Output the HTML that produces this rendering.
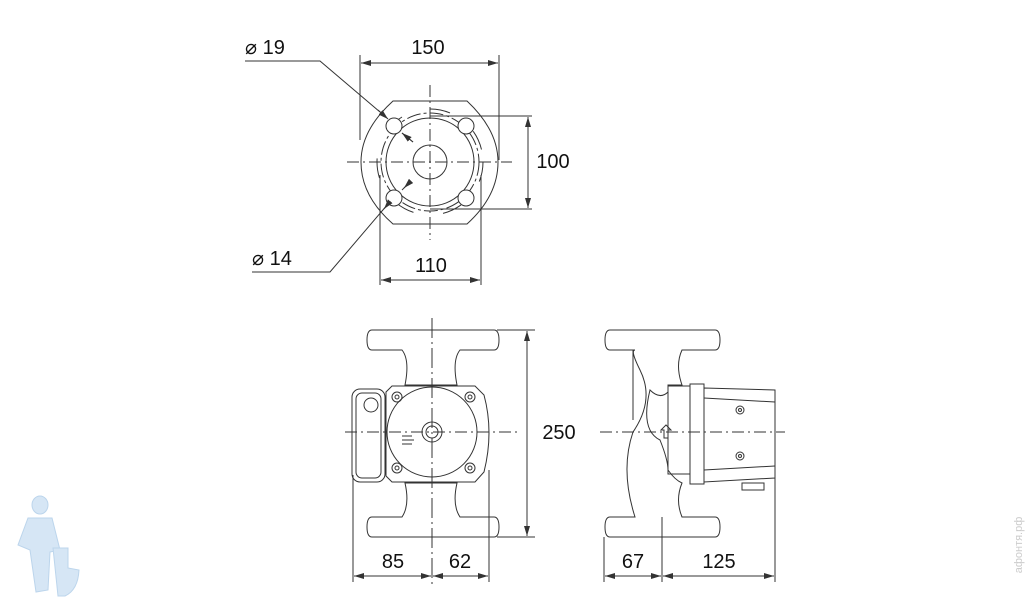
<!DOCTYPE html>
<html><head><meta charset="utf-8"><style>
html,body{margin:0;padding:0;background:#fff;width:1034px;height:611px;overflow:hidden}
svg{display:block}
text{font-family:"Liberation Sans",sans-serif;fill:#111}
</style></head><body>
<svg width="1034" height="611" viewBox="0 0 1034 611" xmlns="http://www.w3.org/2000/svg">
<defs>
<marker id="a" viewBox="0 0 10 6" refX="10" refY="3" markerWidth="10" markerHeight="6" orient="auto-start-reverse" markerUnits="userSpaceOnUse">
<path d="M0,0 L10,3 L0,6 z" fill="#333"/></marker>
</defs>
<g fill="none" stroke="#333" stroke-width="1">
<!-- TOP VIEW -->
<line x1="360" y1="55" x2="360" y2="140"/>
<line x1="499" y1="55" x2="499" y2="160"/>
<line x1="361" y1="63" x2="498" y2="63" marker-start="url(#a)" marker-end="url(#a)"/>
<path d="M393,101 L467,101 Q498,130 498,162 Q498,196 467,224 L393,224 Q361,196 361,162 Q361,130 393,101 Z"/>
<circle cx="430" cy="162" r="17"/>
<circle cx="430" cy="162" r="44"/>
<circle cx="430" cy="162" r="49" stroke-dasharray="14,3,3,3"/>
<circle cx="430" cy="162" r="53" stroke-dasharray="20,30"/>
<circle cx="394" cy="126" r="8" fill="#fff"/>
<circle cx="466" cy="126" r="8" fill="#fff"/>
<circle cx="394" cy="198" r="8" fill="#fff"/>
<circle cx="466" cy="198" r="8" fill="#fff"/>
<line x1="347" y1="162" x2="512" y2="162" stroke-dasharray="12,4,2,4"/>
<line x1="430" y1="85" x2="430" y2="240" stroke-dasharray="12,4,2,4"/>
<line x1="430" y1="116" x2="532" y2="116"/>
<line x1="430" y1="209" x2="532" y2="209"/>
<line x1="528" y1="117" x2="528" y2="208" marker-start="url(#a)" marker-end="url(#a)"/>
<line x1="380" y1="175" x2="380" y2="285"/>
<line x1="481" y1="175" x2="481" y2="285"/>
<line x1="381" y1="280" x2="480" y2="280" marker-start="url(#a)" marker-end="url(#a)"/>
<polyline points="245,61 320,61 380,112"/>
<line x1="378" y1="110" x2="388" y2="119" marker-end="url(#a)"/>
<line x1="413" y1="142" x2="402" y2="133" marker-end="url(#a)"/>
<line x1="402" y1="133" x2="413" y2="142"/>
<polyline points="252,272 330,272 388,204"/>
<line x1="388" y1="204" x2="384" y2="209" marker-end="url(#a)"/>
<line x1="402" y1="190" x2="410" y2="182"/>
<line x1="410" y1="182" x2="404" y2="188" marker-end="url(#a)"/>
<!-- FRONT VIEW -->
<path d="M372,330 L494,330 Q499,330 499,340 Q499,350 494,350 L460,350 Q452,360 457,385 L405,385 Q410,360 402,350 L372,350 Q367,350 367,340 Q367,330 372,330 Z"/>
<path d="M372,537 L494,537 Q499,537 499,527 Q499,517 494,517 L460,517 Q452,505 457,483 L405,483 Q410,505 402,517 L372,517 Q367,517 367,527 Q367,537 372,537 Z"/>
<path d="M392,386 L475,386 L484,395 Q494,432 484,472 L475,482 L392,482 L386,476 L386,392 Z" fill="#fff"/>
<circle cx="432" cy="432" r="45"/>
<circle cx="432" cy="432" r="10"/>
<circle cx="432" cy="432" r="6"/>
<circle cx="397" cy="397" r="5"/><circle cx="397" cy="397" r="2"/>
<circle cx="470" cy="397" r="5"/><circle cx="470" cy="397" r="2"/>
<circle cx="397" cy="468" r="5"/><circle cx="397" cy="468" r="2"/>
<circle cx="470" cy="468" r="5"/><circle cx="470" cy="468" r="2"/>
<rect x="352" y="389" width="33" height="93" rx="8"/>
<rect x="356" y="393" width="25" height="85" rx="6"/>
<circle cx="371" cy="405" r="7"/>
<line x1="402" y1="436" x2="412" y2="436"/><line x1="402" y1="440" x2="414" y2="440"/><line x1="402" y1="444" x2="412" y2="444"/>
<line x1="432" y1="318" x2="432" y2="585" stroke-dasharray="20,4,2,4"/>
<line x1="345" y1="432" x2="520" y2="432" stroke-dasharray="12,4,2,4"/>
<line x1="497" y1="330" x2="535" y2="330"/>
<line x1="497" y1="537" x2="535" y2="537"/>
<line x1="527" y1="331" x2="527" y2="536" marker-start="url(#a)" marker-end="url(#a)"/>
<line x1="353" y1="475" x2="353" y2="582"/>
<line x1="489" y1="470" x2="489" y2="582"/>
<line x1="354" y1="576" x2="431" y2="576" marker-start="url(#a)" marker-end="url(#a)"/>
<line x1="433" y1="576" x2="488" y2="576" marker-start="url(#a)" marker-end="url(#a)"/>
<!-- SIDE VIEW -->
<path d="M610,330 L715,330 Q720,330 720,340 Q720,350 715,350 L682,350 Q675,365 682,385 L668,385 L668,392 Q660,400 650,390 Q640,430 660,440 Q668,460 668,470 Q675,480 682,483 Q675,500 682,517 L715,517 Q720,517 720,527 Q720,537 715,537 L610,537 Q605,537 605,527 Q605,517 610,517 L635,517 Q620,470 633,432 Q655,400 640,370 Q630,350 635,350 L610,350 Q605,350 605,340 Q605,330 610,330 Z"/>
<line x1="633" y1="350" x2="633" y2="420"/>
<rect x="668" y="386" width="22" height="88"/>
<rect x="690" y="384" width="14" height="100"/>
<path d="M704,388 L775,390 L775,478 L704,482 Z"/>
<line x1="704" y1="398" x2="775" y2="402"/>
<line x1="704" y1="470" x2="775" y2="466"/>
<circle cx="740" cy="410" r="4"/><circle cx="740" cy="410" r="1.5"/>
<circle cx="740" cy="456" r="4"/><circle cx="740" cy="456" r="1.5"/>
<rect x="742" y="483" width="22" height="7"/>
<path d="M664,438 L664,430 L661,430 L666,425 L671,430 L668,430 L668,438 Z"/>
<line x1="600" y1="432" x2="785" y2="432" stroke-dasharray="12,4,2,4"/>
<line x1="662" y1="517" x2="662" y2="582"/>
<line x1="604" y1="537" x2="604" y2="582"/>
<line x1="775" y1="478" x2="775" y2="582"/>
<line x1="605" y1="576" x2="661" y2="576" marker-start="url(#a)" marker-end="url(#a)"/>
<line x1="663" y1="576" x2="774" y2="576" marker-start="url(#a)" marker-end="url(#a)"/>
</g>
<g font-size="20">
<text x="428" y="54" text-anchor="middle">150</text>
<text x="245" y="54">⌀ 19</text>
<text x="553" y="168" text-anchor="middle">100</text>
<text x="252" y="265">⌀ 14</text>
<text x="431" y="272" text-anchor="middle">110</text>
<text x="559" y="439" text-anchor="middle">250</text>
<text x="393" y="568" text-anchor="middle">85</text>
<text x="460" y="568" text-anchor="middle">62</text>
<text x="633" y="568" text-anchor="middle">67</text>
<text x="719" y="568" text-anchor="middle">125</text>
</g>
<!-- logo -->
<g fill="#d6e6f5" stroke="#bcd5ec" stroke-width="1">
<ellipse cx="40" cy="505" rx="8" ry="9"/>
<path d="M28,518 L52,518 L60,550 L50,552 L48,590 L36,592 L30,550 L18,545 Z"/>
<path d="M53,548 L68,548 L68,568 L79,570 Q78,590 65,596 L58,596 Z"/>
</g>
<text x="1022" y="545" font-size="11" fill="#ccc" transform="rotate(-90 1022 545)" text-anchor="middle" style="fill:#ccc">афонтя.рф</text>
</svg>
</body></html>
